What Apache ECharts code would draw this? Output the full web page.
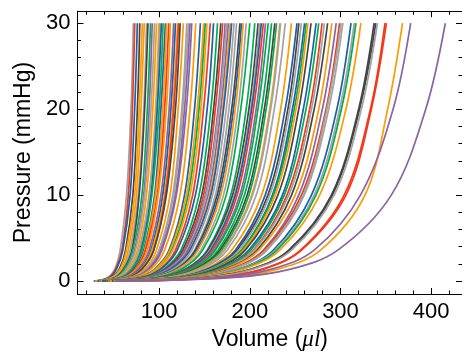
<!DOCTYPE html>
<html>
<head>
<meta charset="utf-8">
<script src="https://cdn.jsdelivr.net/npm/echarts@6/dist/echarts.min.js"></script>
<style>
html,body{margin:0;padding:0;background:#fff;}
#chart{width:462px;height:356px;}
</style>
</head>
<body>
<div id="chart"></div>
<script>
// Pressure levels (mmHg) at which each curve's volume was read
const pressureLevels = [0, 0.4, 1.4, 3.6, 10, 20, 30];

// Volumes (µl) for each curve at the pressure levels above
const curveVolumes = [
  [28,43,51,57,64,69,71.6],
  [29,44,52,59,66,70.5,73.1],
  [28,45,53,60,68,73,76],
  [30,47,56,63,71,76,78.7],
  [29,47,57,64,73,78,81.5],
  [31,49,59,66,75,80,83.6],
  [30,50,60,68,77,83,86.1],
  [32,51,61,70,78,84,87.7],
  [31,52,62,71,81,87,90.5],
  [33,54,64,73,83,89,92.4],
  [30,53,64,74,84,91,94.9],
  [32,55,66,76,86,93,97.1],
  [33,56,68,78,89,96,99.7],
  [31,55,68,78,89,97,100.8],
  [34,58,70,80,91,98,102.5],
  [32,57,70,81,92,100,104.4],
  [33,59,72,83,95,102,106.9],
  [35,61,74,84,96,104,108.2],
  [32,60,74,85,98,106,110.6],
  [34,61,75,87,99,108,112.3],
  [33,62,77,89,102,111,116],
  [35,64,79,91,104,113,118],
  [34,64,80,92,106,115,120.4],
  [36,66,81,94,107,116,121.5],
  [33,65,81,94,108,118,123.2],
  [35,67,84,97,112,121,126.7],
  [36,69,86,100,115,125,130.5],
  [34,68,86,100,116,126,132.4],
  [37,71,88,102,118,128,134.1],
  [35,70,89,103,119,130,136],
  [36,72,91,106,123,134,140.4],
  [38,76,95,111,128,139,145.5],
  [36,76,96,112,130,142,149.1],
  [38,77,98,114,132,144,150.9],
  [37,78,98,115,134,146,152.7],
  [39,80,101,118,137,149,156.4],
  [37,80,102,120,140,153,160],
  [39,83,105,124,144,157,164.4],
  [38,83,107,126,147,160,168],
  [40,85,109,128,149,162,170.1],
  [38,85,109,129,151,165,172.8],
  [40,87,111,131,152,166,174.5],
  [39,87,112,132,154,168,176.4],
  [41,89,114,134,156,170,178.2],
  [38,88,113,134,157,171,180],
  [40,90,116,136,159,174,182.6],
  [42,92,118,139,162,177,185.4],
  [39,92,119,140,164,180,189.1],
  [41,93,120,142,166,182,190.8],
  [40,93,121,143,168,184,192.7],
  [42,96,124,146,171,187,196],
  [40,96,125,148,174,190,200],
  [43,100,129,153,179,196,205.5],
  [41,100,130,154,181,199,209.1],
  [43,102,132,156,183,201,210.9],
  [40,100,132,157,184,202,212.7],
  [42,102,134,159,186,204,214.9],
  [44,105,136,161,189,207,217.3],
  [41,104,136,162,191,209,220.3],
  [43,106,139,165,194,213,224],
  [42,107,140,167,197,216,227.6],
  [44,109,142,169,199,218,229.5],
  [42,109,143,171,202,222,233.1],
  [45,111,145,172,203,223,233.9],
  [43,112,147,175,207,227,239.1],
  [44,115,151,180,213,234,245.9],
  [42,116,153,184,217,239,252],
  [45,118,156,186,220,242,254.1],
  [44,118,157,188,222,244,256.8],
  [46,121,160,191,225,247,260.4],
  [43,120,159,191,226,249,262.2],
  [45,122,161,193,228,251,264],
  [44,122,162,195,231,254,267.5],
  [46,125,166,199,236,259,273.1],
  [44,125,167,201,238,262,276],
  [47,128,170,204,241,266,279.7],
  [45,128,171,205,243,268,282.2],
  [46,130,173,208,246,271,285.8],
  [44,130,175,210,250,276,290.4],
  [47,134,179,215,254,280,295.3],
  [45,134,180,216,257,284,298.9],
  [47,136,181,218,259,285,300.7],
  [46,136,182,219,260,287,302.6],
  [48,140,188,226,268,296,311.6],
  [46,140,189,228,271,299,315.2],
  [48,142,191,230,273,301,317.1],
  [47,143,193,233,277,306,322.5],
  [49,150,202,243,290,320,337.1],
  [48,150,202,244,291,321,338.9],
  [50,152,204,246,293,323,340.8],
  [49,160,214,256,304,333,349.1],
  [50,161,215,257,306,334,350.6],
  [50,174,231,278,327,352,368.4],
  [51,165,224,271,322,358,377.4],
  [52,179,245,297,356,394,415.6]
];

// Colour of each curve (same order as curveVolumes)
const curveColorKeys = [
  'gray','red','blue','dark','orange','orange','gray','dark','green','purple',
  'gray','orange','orange','gray','blue','green','blue','orange','red','orange',
  'purple','blue','orange','red','dark','orange','gray','gray','purple','purple',
  'orange','blue','orange','green','orange','red','blue','green','dark','red',
  'purple','gray','purple','orange','blue','gray','gray','dark','blue','orange',
  'gray','green','green','dark','gray','blue','red','purple','green','green',
  'dark','green','orange','gray','gray','orange','blue','dark','gray','blue',
  'green','orange','dark','blue','green','red','gray','dark','orange','purple',
  'red','gray','gray','blue','gray','green','orange','dark','dark','gray',
  'red','red','orange','purple','purple'
];

const palette = {
  red: '#f4381a',
  orange: '#ff9a00',
  green: '#00ad4e',
  blue: '#1b5eaa',
  purple: '#8a63a5',
  dark: '#444444',
  gray: '#a2a2a2'
};

const xMajorTicks = [100, 200, 300, 400];
const xMinorTicks = [20,40,60,80,120,140,160,180,220,240,260,280,320,340,360,380,420];
const yMajorTicks = [0, 10, 20, 30];
const yMinorTicks = [2,4,6,8,12,14,16,18,22,24,26,28];

const X_MIN = 10, X_MAX = 434;
const Y_MIN = -1.5, Y_MAX = 31.4;

const FONT = '"Liberation Sans", Arial, sans-serif';

function xAxisDef(position, ticks, len, showLabel, showLine) {
  return {
    type: 'value', position: position, min: X_MIN, max: X_MAX,
    splitLine: { show: false },
    axisLine: { show: showLine, onZero: false, lineStyle: { color: '#000', width: 1 } },
    axisTick: { show: true, inside: true, length: len, customValues: ticks,
      lineStyle: { color: '#000', width: 1 } },
    axisLabel: showLabel ? { show: true, customValues: ticks, margin: 7,
      color: '#000', fontSize: 22, fontFamily: FONT } : { show: false }
  };
}
function yAxisDef(position, ticks, len, showLabel, showLine) {
  return {
    type: 'value', position: position, min: Y_MIN, max: Y_MAX,
    splitLine: { show: false },
    axisLine: { show: showLine, onZero: false, lineStyle: { color: '#000', width: 1 } },
    axisTick: { show: true, inside: true, length: len, customValues: ticks,
      lineStyle: { color: '#000', width: 1 } },
    axisLabel: showLabel ? { show: true, customValues: ticks, margin: 7,
      color: '#000', fontSize: 22, fontFamily: FONT } : { show: false }
  };
}

const xAxes = [
  xAxisDef('bottom', xMajorTicks, 6, true, true),
  xAxisDef('bottom', xMinorTicks, 3.5, false, false),
  xAxisDef('top', xMajorTicks, 6, false, true),
  xAxisDef('top', xMinorTicks, 3.5, false, false)
];
Object.assign(xAxes[0], {
  name: 'Volume ({i|μl})', nameLocation: 'middle', nameGap: 34,
  nameTextStyle: { color: '#000', fontSize: 23, fontFamily: FONT,
    rich: { i: { fontSize: 23, fontStyle: 'italic', fontFamily: '"Liberation Serif", "Times New Roman", serif', color: '#000' } } }
});

const yAxes = [
  yAxisDef('left', yMajorTicks, 6, true, true),
  yAxisDef('left', yMinorTicks, 3.5, false, false),
  yAxisDef('right', yMajorTicks, 6, false, true),
  yAxisDef('right', yMinorTicks, 3.5, false, false)
];
Object.assign(yAxes[0], {
  name: 'Pressure (mmHg)', nameLocation: 'middle', nameGap: 40, nameRotate: 90,
  nameTextStyle: { color: '#000', fontSize: 23, fontFamily: FONT }
});

const series = curveVolumes.map(function (vols, k) {
  return {
    type: 'line',
    xAxisIndex: 0, yAxisIndex: 0,
    data: vols.map(function (v, i) { return [v, pressureLevels[i]]; }),
    showSymbol: false,
    smooth: 0.35,
    lineStyle: { width: 1.7, color: palette[curveColorKeys[k]] },
    itemStyle: { color: palette[curveColorKeys[k]] },
    emphasis: { disabled: true },
    silent: true,
    animation: false
  };
});

const chart = echarts.init(document.getElementById('chart'), null, { renderer: 'canvas' });
chart.setOption({
  animation: false,
  backgroundColor: '#fff',
  grid: { left: 77.5, right: -4.2, top: 11.2, bottom: 61.1, containLabel: false },
  xAxis: xAxes,
  yAxis: yAxes,
  series: series
});
</script>
</body>
</html>
